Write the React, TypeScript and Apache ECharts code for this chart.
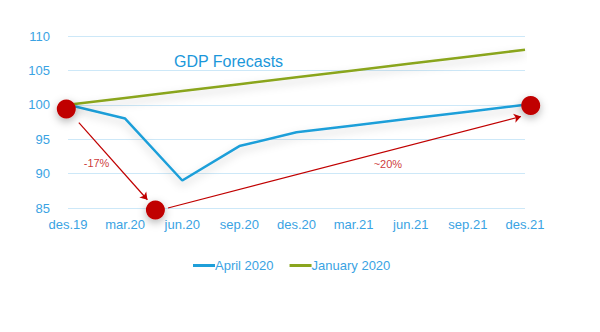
import React, { useEffect, useRef } from "react";
import * as echarts from "echarts";

const categories = ["des.19", "mar.20", "jun.20", "sep.20", "des.20", "mar.21", "jun.21", "sep.21", "des.21"];
const april2020 = [100, 98, 89, 94, 96, 97, 98, 99, 100];
const january2020 = [100, 101, 102, 103, 104, 105, 106, 107, 108];
const yTicks = { min: 85, max: 110, interval: 5 };

// annotation points on a fractional category position (0 = des.19, 8 = des.21)
const markerX = [-0.03, 1.53, 8.1];
const markerY = [99.4, 84.7, 99.9];
const arrowStarts = [[0.19, 97.4], [1.75, 85.0]];
const arrowEnds = [[1.39, 86.2], [7.93, 98.3]];
const annotationTexts = ["-17%", "~20%"];
const annotationX = [0.5, 5.6];
const annotationY = [91.6, 91.4];

const BLUE = "#1f9fd9";
const GREEN = "#8aa51e";
const RED = "#c00000";
const LABEL = "#3aa3e3";
const FONT = "'Liberation Sans', Arial, sans-serif";

export default function App() {
  const ref = useRef<HTMLDivElement>(null);
  useEffect(() => {
    if (!ref.current) return;
    const chart = echarts.init(ref.current, null, { renderer: "svg" });
    const shadow = { shadowColor: "rgba(0,0,0,0.2)", shadowBlur: 8, shadowOffsetY: 4 };
    chart.setOption({
      animation: false,
      backgroundColor: "#ffffff",
      textStyle: { fontFamily: FONT },
      title: {
        text: "GDP Forecasts",
        left: 169,
        top: 48,
        textStyle: { fontSize: 16, fontWeight: "normal", color: "#1b97da", fontFamily: FONT },
      },
      legend: {
        data: ["April 2020", "January 2020"],
        left: 188,
        top: 254,
        icon: "rect",
        itemWidth: 22,
        itemHeight: 3,
        itemGap: 16,
        textStyle: { color: LABEL, fontSize: 13, fontFamily: FONT, padding: [0, 0, 0, -5] },
      },
      grid: { left: 68, right: 75, top: 36, bottom: 124 },
      xAxis: [
        {
          type: "category",
          data: categories,
          boundaryGap: false,
          axisLine: { show: false },
          axisTick: { show: false },
          axisLabel: { color: LABEL, fontSize: 13, margin: 10, fontFamily: FONT },
          splitLine: { show: false },
        },
        { type: "value", min: 0, max: 8, show: false },
      ],
      yAxis: {
        type: "value",
        min: yTicks.min,
        max: yTicks.max,
        interval: yTicks.interval,
        axisLine: { show: false },
        axisTick: { show: false },
        axisLabel: { color: LABEL, fontSize: 13, margin: 18, fontFamily: FONT },
        splitLine: { lineStyle: { color: "#cde8f8", width: 1 } },
      },
      series: [
        {
          name: "April 2020",
          type: "line",
          data: april2020,
          symbol: "none",
          lineStyle: { color: BLUE, width: 2.5, ...shadow },
          itemStyle: { color: BLUE },
        },
        {
          name: "January 2020",
          type: "line",
          data: january2020,
          symbol: "none",
          lineStyle: { color: GREEN, width: 2.5, ...shadow },
          itemStyle: { color: GREEN },
        },
        {
          name: "arrows",
          type: "lines",
          coordinateSystem: "cartesian2d",
          xAxisIndex: 1,
          yAxisIndex: 0,
          clip: false,
          symbol: ["none", "arrow"],
          symbolSize: 7,
          lineStyle: { color: RED, width: 1.2, opacity: 1 },
          data: arrowStarts.map((s, i) => ({ coords: [s, arrowEnds[i]] })),
          z: 4,
        },
        {
          name: "markers",
          type: "scatter",
          xAxisIndex: 1,
          yAxisIndex: 0,
          clip: false,
          symbolSize: 19,
          itemStyle: { color: RED, opacity: 1, shadowColor: "rgba(0,0,0,0.3)", shadowBlur: 8, shadowOffsetY: 3 },
          data: markerX.map((x, i) => [x, markerY[i]]),
          z: 5,
        },
        {
          name: "annotations",
          type: "scatter",
          xAxisIndex: 1,
          yAxisIndex: 0,
          clip: false,
          symbolSize: 0,
          data: annotationX.map((x, i) => ({ value: [x, annotationY[i]], name: annotationTexts[i] })),
          label: {
            show: true,
            position: "inside",
            formatter: (p: any) => p.name,
            color: RED,
            fontSize: 11,
            fontFamily: FONT,
          },
          z: 5,
        },
      ],
    });
    return () => chart.dispose();
  }, []);
  return <div ref={ref} style={{ position: "fixed", left: 0, top: 0, width: 600, height: 332 }} />;
}
